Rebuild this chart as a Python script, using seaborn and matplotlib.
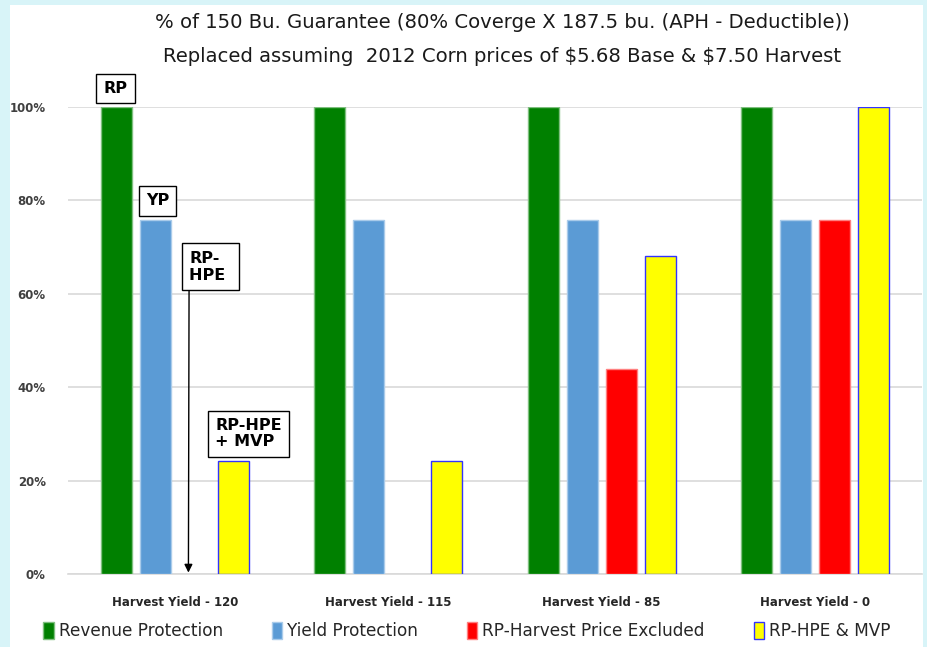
import numpy as np
import pandas as pd

import seaborn as sns
import matplotlib.pyplot as plt
import matplotlib.ticker as mticker
from matplotlib.patches import Patch, Rectangle


OUTPUT_PNG = 'out.png'

# data (% of the 150 bu. guarantee)
categories = ['Harvest Yield - 120', 'Harvest Yield - 115',
              'Harvest Yield - 85', 'Harvest Yield - 0']
series = ['Revenue Protection', 'Yield Protection',
          'RP-Harvest Price Excluded', 'RP-HPE & MVP']
rp_values = [100, 100, 100, 100]
yp_values = [75.7, 75.7, 75.7, 75.7]
rphpe_values = [np.nan, np.nan, 43.9, 75.7]
mvp_values = [24.3, 24.3, 68.2, 100]

fill_colors = ['#008000', '#5B9BD5', '#FF0000', '#FFFF00']
edge_colors = ['#7FBF7F', '#A9CBEA', '#FF8080', '#3333FF']

title_1 = '% of 150 Bu. Guarantee (80% Coverge X 187.5 bu. (APH - Deductible))'
title_2 = 'Replaced assuming  2012 Corn prices of $5.68 Base & $7.50 Harvest'


def make_df():
    rows = []
    for name, vals in zip(series, [rp_values, yp_values, rphpe_values, mvp_values]):
        for cat, v in zip(categories, vals):
            rows.append({'Yield': cat, 'Plan': name, 'Pct': v})
    return pd.DataFrame(rows)


def plot_df(df):
    sns.set_style('white')
    plt.rcParams['font.family'] = ['DejaVu Sans']
    plt.rcParams['text.parse_math'] = False

    fig = plt.figure(figsize=(9.27, 6.47), dpi=100)
    fig.patch.set_facecolor('#D8F4F8')
    fig.add_artist(Rectangle((10 / 927, 0), 913 / 927, 1 - 5 / 647,
                             transform=fig.transFigure, facecolor='white',
                             edgecolor='none', zorder=-1))

    ax = fig.add_axes([68 / 927, 1 - 574 / 647, 854 / 927, 467 / 647])
    ax.set_facecolor('white')

    sns.barplot(data=df, x='Yield', y='Pct', hue='Plan', hue_order=series,
                order=categories, palette=fill_colors, saturation=1,
                width=0.73, gap=0.2, linewidth=1, legend=False, ax=ax)
    for cont, ec in zip(ax.containers, edge_colors):
        for bar in cont:
            bar.set_edgecolor(ec)
            bar.set_zorder(3)

    ax.set_ylim(0, 100)
    ax.set_xlim(-0.5, 3.5)
    ax.set_yticks([0, 20, 40, 60, 80, 100])
    ax.yaxis.set_major_formatter(mticker.FuncFormatter(lambda v, p: f'{v:.0f}%'))
    ax.grid(axis='y', color='#D9D9D9', linewidth=1.2, zorder=0)
    ax.set_axisbelow(True)
    for s in ['top', 'right', 'left']:
        ax.spines[s].set_visible(False)
    ax.spines['bottom'].set_color('#D9D9D9')
    ax.spines['bottom'].set_linewidth(1.2)
    ax.set_xlabel('')
    ax.set_ylabel('')
    ax.tick_params(axis='y', length=0, pad=16, labelsize=8.5, labelcolor='#404040')
    ax.tick_params(axis='x', length=0, pad=16, labelsize=8.5, labelcolor='#262626')
    for t in ax.get_yticklabels() + ax.get_xticklabels():
        t.set_fontweight('bold')

    # call-out boxes
    box = dict(boxstyle='square,pad=0.45', facecolor='white', edgecolor='black', linewidth=1)
    ax.text(-0.278, 103.9, 'RP', ha='center', va='center', fontsize=11.5,
            fontweight='bold', color='black', bbox=box, clip_on=False)
    ax.text(-0.081, 79.9, 'YP', ha='center', va='center', fontsize=11.5,
            fontweight='bold', color='black', bbox=box, clip_on=False)
    ax.text(0.167, 65.8, 'RP-\nHPE ', ha='center', va='center', fontsize=11.5,
            fontweight='bold', color='black', bbox=box, linespacing=1.2,
            multialignment='left')
    ax.text(0.345, 30.0, 'RP-HPE\n+ MVP', ha='center', va='center', fontsize=11.5,
            fontweight='bold', color='black', bbox=box, linespacing=1.1,
            multialignment='left')
    ax.annotate('', xy=(0.064, 0.3), xytext=(0.067, 60.6),
                arrowprops=dict(arrowstyle='-|>', color='black', lw=1,
                                mutation_scale=12, shrinkA=0, shrinkB=0))

    fig.text(502 / 927, 1 - 22 / 647, title_1, ha='center', va='center',
             fontsize=14.1, color='#1A1A1A')
    fig.text(502 / 927, 1 - 57 / 647, title_2, ha='center', va='center',
             fontsize=14.1, color='#1A1A1A')

    handles = [Patch(facecolor=fc, edgecolor=ec, linewidth=1)
               for fc, ec in zip(fill_colors, edge_colors)]
    fig.legend(handles, series, loc='center', bbox_to_anchor=(467 / 927, 1 - 631 / 647),
               ncol=4, frameon=False, fontsize=12.2, handlelength=0.6,
               handleheight=1.2, handletextpad=0.3, columnspacing=2.9)

    fig.savefig(OUTPUT_PNG, dpi=100, facecolor=fig.get_facecolor())
    plt.close('all')


if __name__ == '__main__':
    df = make_df()
    print(df)
    plot_df(df)
